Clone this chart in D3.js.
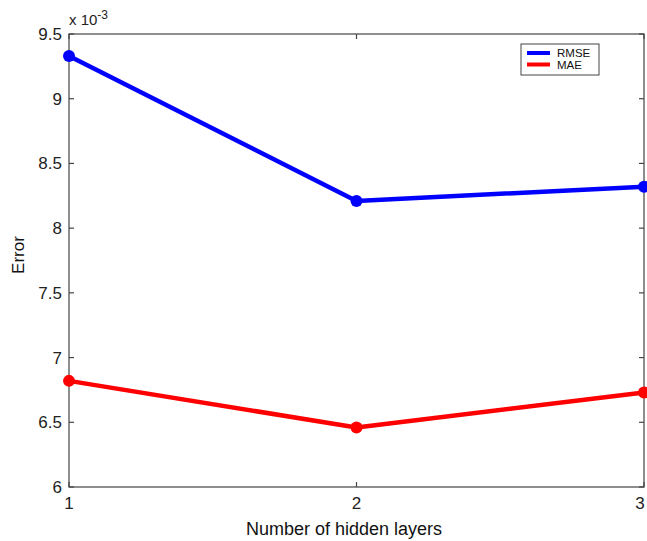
<!DOCTYPE html>
<html>
<head>
<meta charset="utf-8">
<script src="https://cdn.jsdelivr.net/npm/d3@7"></script>
<style>
  html, body { margin: 0; padding: 0; background: #fff; }
  svg { display: block; font-family: "Liberation Sans", Arial, sans-serif; }
</style>
</head>
<body>
<svg id="chart" width="647" height="541"></svg>
<script>
// Number of hidden layers on the x axis
const layers = [1, 2, 3];
// Error values, in units of 1e-3
const rmse = [9.33, 8.21, 8.32];
const mae = [6.82, 6.46, 6.73];
const yTicks = [6, 6.5, 7, 7.5, 8, 8.5, 9, 9.5];
const xTicks = [1, 2, 3];
const seriesNames = ["RMSE", "MAE"];
const seriesColors = ["#0000ff", "#ff0000"];

const svg = d3.select("#chart");
const m = { left: 69, top: 34, right: 644, bottom: 487 };

const x = d3.scaleLinear().domain([1, 3]).range([m.left, m.right]);
const y = d3.scaleLinear().domain([6, 9.5]).range([m.bottom, m.top]);

const axisColor = "#444";
const tickLen = 5;

// Box around the plot area
svg.append("rect")
  .attr("x", m.left).attr("y", m.top)
  .attr("width", m.right - m.left).attr("height", m.bottom - m.top)
  .attr("fill", "none").attr("stroke", axisColor).attr("stroke-width", 1.2);

// Inward ticks on all four sides
const tickG = svg.append("g").attr("stroke", axisColor).attr("stroke-width", 1.2);
yTicks.forEach(v => {
  tickG.append("line").attr("x1", m.left).attr("x2", m.left + tickLen).attr("y1", y(v)).attr("y2", y(v));
  tickG.append("line").attr("x1", m.right).attr("x2", m.right - tickLen).attr("y1", y(v)).attr("y2", y(v));
});
xTicks.forEach(v => {
  tickG.append("line").attr("x1", x(v)).attr("x2", x(v)).attr("y1", m.bottom).attr("y2", m.bottom - tickLen);
  tickG.append("line").attr("x1", x(v)).attr("x2", x(v)).attr("y1", m.top).attr("y2", m.top + tickLen);
});

// Tick labels (the last x label is nudged left so it stays inside the page)
const fmt = d3.format("~g");
svg.append("g").selectAll("text").data(yTicks).join("text")
  .attr("x", m.left - 7).attr("y", d => y(d)).attr("dy", "0.35em")
  .attr("text-anchor", "end").attr("font-size", 17).attr("fill", "#222")
  .text(d => fmt(d));
svg.append("g").selectAll("text").data(xTicks).join("text")
  .attr("x", d => Math.min(x(d), 640)).attr("y", m.bottom + 22)
  .attr("text-anchor", "middle").attr("font-size", 17).attr("fill", "#222")
  .text(d => d);

// Exponent multiplier above the y axis
const mult = svg.append("text").attr("x", m.left).attr("y", 25)
  .attr("font-size", 15).attr("fill", "#222");
mult.append("tspan").text("x 10");
mult.append("tspan").attr("dy", -6).attr("font-size", 12).text("-3");

// Axis titles
svg.append("text").attr("x", 344).attr("y", 535)
  .attr("text-anchor", "middle").attr("font-size", 18).attr("fill", "#111")
  .text("Number of hidden layers");
svg.append("text").attr("transform", "translate(24,255) rotate(-90)")
  .attr("text-anchor", "middle").attr("font-size", 17).attr("fill", "#111")
  .text("Error");

// Series lines and markers
const line = d3.line().x((d, i) => x(layers[i])).y(d => y(d));
[rmse, mae].forEach((vals, si) => {
  svg.append("path").datum(vals)
    .attr("d", line).attr("fill", "none")
    .attr("stroke", seriesColors[si]).attr("stroke-width", 4.5)
    .attr("stroke-linejoin", "round");
  svg.append("g").selectAll("circle").data(vals).join("circle")
    .attr("cx", (d, i) => x(layers[i])).attr("cy", d => y(d))
    .attr("r", 6).attr("fill", seriesColors[si]);
});

// Legend
const lg = svg.append("g");
lg.append("rect").attr("x", 521).attr("y", 44).attr("width", 78).attr("height", 31)
  .attr("fill", "#fff").attr("stroke", axisColor).attr("stroke-width", 1);
seriesNames.forEach((name, i) => {
  const ly = 53 + i * 11.5;
  lg.append("line").attr("x1", 527).attr("x2", 550).attr("y1", ly).attr("y2", ly)
    .attr("stroke", seriesColors[i]).attr("stroke-width", 4);
  lg.append("text").attr("x", 557).attr("y", ly).attr("dy", "0.35em")
    .attr("font-size", 11.5).attr("fill", "#111").text(name);
});
</script>
</body>
</html>
